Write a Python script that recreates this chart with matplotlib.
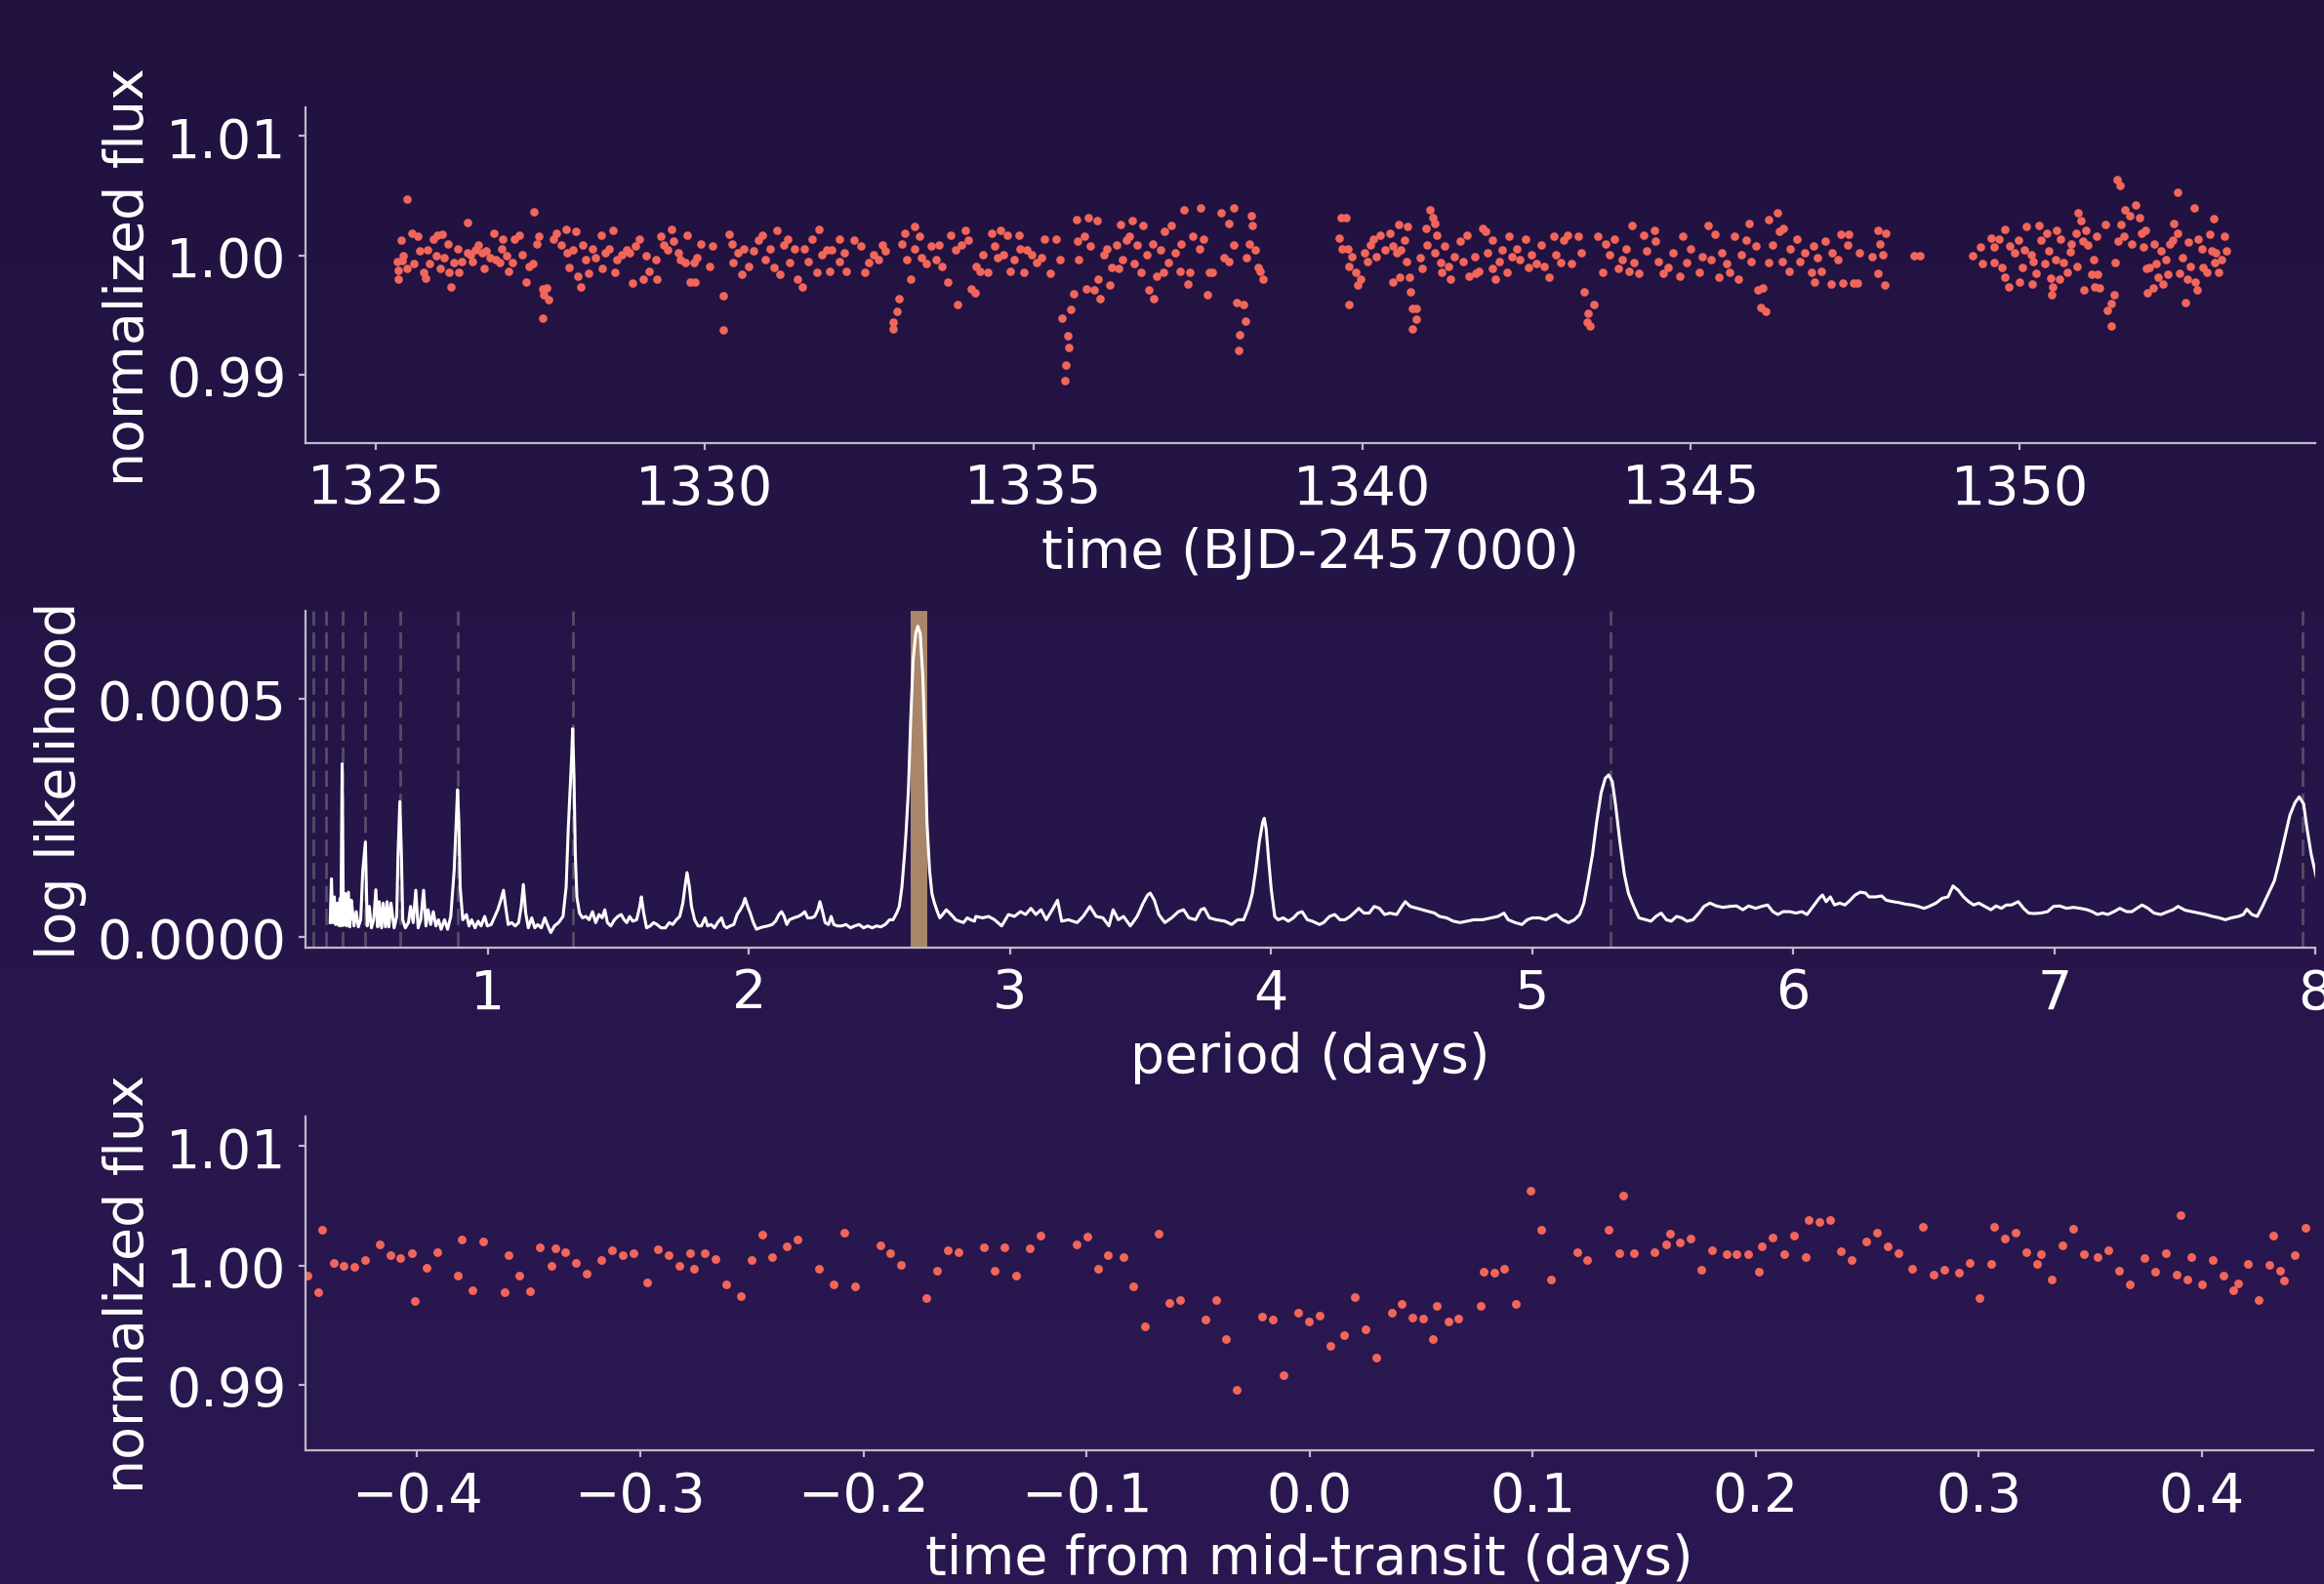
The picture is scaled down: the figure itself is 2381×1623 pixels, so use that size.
import numpy as np
import matplotlib
matplotlib.use('Agg')
import matplotlib.pyplot as plt
from matplotlib.ticker import FormatStrFormatter
from matplotlib.colors import LinearSegmentedColormap

# top panel: light curve, time (BJD-2457000) and normalized flux
lc_time = [
    1325.47, 1325.39, 1325.54, 1325.64, 1325.42, 1325.32, 1325.34, 1325.34, 1325.40, 1325.47,
    1325.57, 1325.67, 1325.72, 1325.76, 1325.82, 1325.87, 1325.94, 1326.01, 1325.79, 1325.92,
    1325.97, 1326.04, 1326.09, 1326.14, 1326.11, 1326.19, 1326.24, 1326.26, 1326.31, 1326.40,
    1326.39, 1326.44, 1326.46, 1326.51, 1326.56, 1326.61, 1326.64, 1326.68, 1326.73, 1326.80,
    1326.83, 1326.88, 1326.93, 1326.92, 1326.98, 1327.02, 1327.08, 1327.10, 1327.18, 1327.22,
    1327.28, 1327.33, 1327.39, 1327.40, 1327.44, 1327.48, 1327.53, 1327.55, 1327.62, 1327.60,
    1327.53, 1327.70, 1327.74, 1327.89, 1327.82, 1327.90, 1327.94, 1327.99, 1328.04, 1328.07,
    1328.12, 1328.14, 1328.19, 1328.24, 1328.29, 1328.34, 1328.42, 1328.44, 1328.49, 1328.54,
    1328.60, 1328.63, 1328.66, 1328.74, 1328.81, 1328.86, 1328.90, 1328.94, 1329.01, 1329.07,
    1329.11, 1329.16, 1329.26, 1329.28, 1329.33, 1329.38, 1329.43, 1329.50, 1329.53, 1329.60,
    1329.63, 1329.73, 1329.70, 1329.78, 1329.83, 1329.85, 1329.88, 1329.94, 1330.07, 1330.12,
    1330.29, 1330.28, 1330.37, 1330.42, 1330.43, 1330.50, 1330.57, 1330.59, 1330.67, 1330.74,
    1330.82, 1330.88, 1330.92, 1330.99, 1331.06, 1331.10, 1331.14, 1331.21, 1331.27, 1331.29,
    1331.36, 1331.41, 1331.49, 1331.51, 1331.58, 1331.63, 1331.71, 1331.74, 1331.78, 1331.86,
    1331.90, 1331.93, 1332.05, 1332.05, 1332.13, 1332.15, 1332.27, 1332.38, 1332.44, 1332.50, 1332.57,
    1332.70, 1332.75, 1332.65, 1332.95, 1332.92, 1332.87, 1332.87, 1333.00, 1333.05, 1333.07,
    1333.14, 1333.19, 1333.19, 1333.27, 1333.29, 1333.37, 1333.44, 1333.52, 1333.56, 1333.61,
    1333.69, 1333.74, 1333.81, 1333.85, 1333.91, 1333.96, 1334.01, 1334.06, 1334.11, 1334.13,
    1334.18, 1334.23, 1334.31, 1334.36, 1334.41, 1334.46, 1334.50, 1334.55, 1334.60, 1334.65,
    1334.70, 1334.78, 1334.80, 1334.85, 1334.90, 1334.98, 1335.05, 1335.12, 1335.17, 1335.25,
    1335.35, 1335.40, 1335.44, 1335.52, 1335.54, 1335.50, 1335.48, 1335.57, 1335.61, 1335.65,
    1335.67, 1335.69, 1335.77, 1335.81, 1335.84, 1335.87, 1335.92, 1335.97, 1335.99, 1336.02,
    1336.07, 1336.11, 1336.16, 1336.19, 1336.26, 1336.29, 1336.33, 1336.36, 1336.41, 1336.46,
    1336.51, 1336.53, 1336.58, 1336.63, 1336.66, 1336.73, 1336.76, 1336.83, 1336.81, 1336.88,
    1336.93, 1336.98, 1336.99, 1337.06, 1337.09, 1337.15, 1337.23, 1337.25, 1337.29, 1337.35,
    1337.38, 1337.42, 1337.53, 1337.55, 1337.59, 1337.65, 1337.67, 1337.72, 1337.85, 1337.90,
    1337.98, 1337.98, 1338.05, 1338.05, 1338.09, 1338.19, 1338.22, 1338.14, 1338.12, 1338.24,
    1338.29, 1338.32, 1338.33, 1338.37, 1338.42, 1338.45, 1338.50,
    1339.68, 1339.75, 1339.65, 1339.70, 1339.78, 1339.80, 1339.80, 1339.85, 1339.90, 1339.93,
    1339.98, 1340.03, 1340.08, 1340.13, 1340.17, 1340.22, 1340.27, 1340.35,
    1340.42, 1340.55, 1340.69, 1340.47, 1340.52, 1340.59, 1340.64, 1340.67, 1340.46, 1340.57,
    1340.72, 1340.74, 1340.77, 1340.82, 1340.83, 1340.77, 1340.89, 1340.91, 1340.97, 1340.99,
    1341.03, 1341.07, 1341.11, 1341.14, 1341.11, 1341.19, 1341.21, 1341.26, 1341.31, 1341.34,
    1341.41, 1341.49, 1341.54, 1341.60, 1341.62, 1341.73, 1341.78, 1341.71, 1341.83, 1341.88,
    1341.91, 1341.98, 1341.98, 1342.03, 1342.08, 1342.13, 1342.20, 1342.23, 1342.28, 1342.35,
    1342.40, 1342.48, 1342.53, 1342.57, 1342.65, 1342.72, 1342.77, 1342.85, 1342.92, 1342.95,
    1343.02, 1343.07, 1343.12, 1343.19, 1343.29, 1343.34, 1343.38, 1343.52, 1343.44, 1343.42,
    1343.47, 1343.59, 1343.66, 1343.71, 1343.76, 1343.84, 1343.89, 1343.96, 1344.01, 1344.06,
    1344.11, 1344.13, 1344.21, 1344.28, 1344.33, 1344.45, 1344.46, 1344.51, 1344.58, 1344.65,
    1344.73, 1344.83, 1344.88, 1344.93, 1345.00, 1345.13, 1345.17, 1345.27, 1345.30, 1345.37,
    1345.42, 1345.47, 1345.55, 1345.59, 1345.67, 1345.72, 1345.77, 1345.84, 1345.88, 1345.92,
    1345.99, 1346.02, 1346.09, 1346.07, 1346.14, 1346.19, 1346.19, 1346.24, 1346.31, 1346.34,
    1346.41, 1346.39, 1346.49, 1346.51, 1346.61, 1346.66, 1346.73, 1346.83, 1346.86, 1346.88,
    1346.93, 1346.98, 1347.05, 1347.13, 1347.15, 1347.23, 1347.28, 1347.31, 1347.38, 1347.40, 1347.48,
    1347.53, 1347.57, 1347.76, 1347.84, 1347.96, 1347.88, 1347.92, 1347.85, 1347.95, 1348.39, 1348.49,
    1349.29, 1349.41, 1349.43, 1349.57, 1349.61, 1349.61, 1349.68, 1349.73, 1349.78, 1349.78,
    1349.83, 1349.85, 1349.93, 1349.98, 1350.00, 1350.05, 1350.08, 1350.11, 1350.17, 1350.19,
    1350.21, 1350.25, 1350.30, 1350.32, 1350.38, 1350.42, 1350.45, 1350.47, 1350.50, 1350.49,
    1350.55, 1350.57, 1350.61, 1350.62, 1350.67, 1350.72, 1350.77, 1350.79, 1350.86, 1350.89,
    1350.87, 1350.94, 1350.97, 1350.98, 1351.01, 1351.04, 1351.09, 1351.12, 1351.14, 1351.17,
    1351.19, 1351.21, 1351.31, 1351.34, 1351.39, 1351.44, 1351.40, 1351.46, 1351.48, 1351.53,
    1351.50, 1351.55, 1351.58, 1351.60, 1351.68, 1351.71, 1351.77, 1351.83, 1351.85, 1351.88,
    1351.91, 1351.93, 1351.95, 1351.98, 1352.03, 1352.05, 1352.08, 1352.11, 1352.15, 1352.18,
    1352.23, 1352.25, 1352.28, 1352.33, 1352.35, 1352.40, 1352.40, 1352.44, 1352.48, 1352.53,
    1352.55, 1352.57, 1352.60, 1352.65, 1352.67, 1352.70, 1352.72, 1352.77, 1352.79, 1352.85,
    1352.90, 1352.92, 1352.96, 1352.97, 1352.99, 1353.03, 1353.07, 1353.11, 1353.14,
]
lc_flux = [
    1.0047, 1.0013, 1.0019, 1.0016, 1.0000, 0.9995, 0.9988, 0.9980, 0.9996, 0.9989,
    0.9993, 1.0004, 0.9986, 0.9981, 0.9993, 1.0014, 1.0017, 1.0018, 1.0005, 1.0000,
    0.9989, 0.9998, 1.0010, 0.9974, 0.9986, 0.9994, 1.0006, 0.9986, 0.9995, 1.0028,
    1.0002, 1.0001, 0.9995, 1.0005, 1.0009, 1.0002, 0.9989, 1.0004, 0.9998, 1.0019,
    0.9997, 0.9994, 1.0014, 1.0006, 1.0000, 0.9987, 0.9994, 1.0014, 1.0017, 1.0001,
    0.9978, 0.9991, 0.9993, 1.0037, 1.0010, 1.0016, 0.9972, 0.9967, 0.9963, 0.9973,
    0.9948, 1.0014, 1.0019, 1.0022, 1.0009, 1.0002, 0.9990, 1.0005, 1.0020, 0.9983,
    0.9974, 1.0009, 0.9997, 0.9985, 1.0006, 0.9998, 1.0017, 0.9989, 1.0002, 1.0006,
    1.0021, 0.9986, 0.9997, 1.0001, 1.0005, 1.0002, 0.9977, 1.0008, 1.0014, 0.9980,
    1.0000, 0.9987, 0.9997, 0.9980, 1.0016, 1.0009, 1.0005, 1.0022, 1.0012, 1.0002,
    0.9997, 1.0017, 0.9994, 0.9978, 0.9994, 0.9978, 0.9998, 1.0010, 0.9991, 1.0008,
    0.9966, 0.9938, 1.0018, 1.0010, 0.9994, 1.0002, 0.9984, 1.0006, 0.9991, 1.0004,
    1.0013, 1.0017, 0.9997, 1.0006, 0.9990, 1.0021, 0.9984, 1.0009, 1.0014, 0.9994,
    1.0006, 0.9980, 0.9974, 1.0006, 0.9995, 1.0014, 0.9986, 1.0022, 1.0001, 1.0005,
    0.9987, 1.0005, 1.0014, 0.9995, 1.0002, 0.9987, 1.0013, 1.0008, 0.9986, 0.9994, 1.0001,
    1.0009, 1.0004, 0.9997, 0.9964, 0.9953, 0.9944, 0.9939, 1.0010, 1.0019, 0.9997,
    0.9980, 1.0024, 1.0006, 1.0016, 0.9998, 0.9993, 1.0008, 0.9997, 1.0009, 0.9991,
    0.9978, 1.0017, 1.0005, 0.9959, 1.0009, 1.0021, 1.0013, 0.9972, 0.9969, 0.9991,
    0.9987, 1.0001, 0.9986, 1.0019, 1.0008, 0.9998, 1.0021, 1.0001, 1.0017, 0.9987,
    0.9997, 1.0017, 1.0006, 0.9986, 1.0005, 1.0001, 0.9994, 0.9998, 1.0014, 0.9985,
    1.0014, 0.9997, 0.9948, 0.9933, 0.9923, 0.9908, 0.9895, 0.9955, 0.9968, 1.0030,
    1.0012, 0.9997, 1.0016, 0.9972, 1.0032, 1.0008, 0.9971, 1.0029, 0.9980, 0.9964,
    1.0001, 1.0006, 0.9975, 0.9990, 1.0009, 0.9989, 1.0026, 0.9997, 1.0013, 1.0016,
    1.0029, 0.9993, 1.0009, 0.9986, 1.0025, 1.0001, 0.9971, 0.9964, 1.0010, 0.9983,
    1.0005, 0.9986, 1.0020, 0.9994, 1.0025, 1.0002, 0.9987, 1.0010, 1.0038, 0.9976,
    0.9986, 1.0016, 1.0006, 1.0040, 1.0014, 0.9967, 0.9986, 0.9986, 1.0036, 0.9998,
    1.0027, 0.9995, 1.0040, 1.0009, 0.9961, 0.9959, 0.9945, 0.9934, 0.9921, 0.9998,
    1.0010, 1.0033, 1.0025, 1.0005, 0.9990, 0.9987, 0.9980,
    1.0032, 1.0032, 1.0015, 1.0006, 1.0006, 0.9991, 0.9959, 0.9999, 0.9986, 0.9975,
    0.9980, 1.0002, 0.9995, 1.0009, 1.0014, 0.9999, 1.0017, 1.0005,
    1.0019, 1.0026, 1.0024, 1.0008, 1.0002, 1.0005, 1.0013, 0.9995, 0.9978, 0.9982,
    0.9982, 0.9970, 0.9956, 0.9956, 0.9947, 0.9939, 0.9998, 0.9989, 1.0023, 1.0009,
    1.0038, 1.0032, 1.0027, 1.0017, 1.0002, 0.9994, 0.9986, 1.0008, 0.9991, 0.9980,
    0.9999, 1.0012, 0.9995, 1.0017, 0.9983, 0.9985, 0.9987, 0.9999, 1.0023, 1.0020,
    1.0002, 0.9989, 1.0013, 0.9980, 0.9995, 1.0005, 0.9986, 1.0016, 0.9999, 1.0006,
    0.9997, 1.0014, 0.9990, 1.0001, 0.9993, 1.0009, 0.9991, 0.9982, 1.0016, 1.0001,
    0.9994, 1.0013, 1.0017, 0.9993, 1.0016, 1.0002, 0.9970, 0.9959, 0.9952, 0.9944,
    0.9941, 1.0016, 0.9986, 1.0010, 1.0001, 1.0014, 0.9989, 0.9997, 1.0006, 0.9987,
    1.0025, 0.9994, 0.9985, 1.0017, 1.0004, 1.0021, 1.0012, 0.9995, 0.9985, 0.9990,
    1.0002, 0.9983, 1.0016, 0.9994, 1.0006, 0.9986, 0.9999, 1.0025, 0.9997, 1.0018,
    0.9982, 1.0002, 0.9993, 0.9986, 1.0016, 0.9980, 1.0001, 1.0013, 1.0027, 0.9995,
    1.0008, 0.9971, 0.9973, 0.9957, 0.9953, 1.0030, 0.9994, 1.0009, 1.0036, 1.0020,
    1.0023, 0.9995, 0.9987, 1.0006, 1.0014, 0.9995, 1.0002, 0.9986, 1.0008, 0.9978,
    0.9998, 0.9987, 1.0012, 0.9976, 1.0002, 0.9997, 1.0018, 0.9977, 1.0009, 1.0018, 0.9977,
    0.9977, 1.0002, 0.9999, 1.0021, 1.0019, 1.0010, 1.0001, 0.9985, 0.9975, 1.0000, 1.0000,
    1.0000, 1.0007, 0.9993, 1.0015, 1.0007, 0.9994, 1.0014, 0.9990, 1.0022, 0.9982,
    0.9974, 1.0008, 1.0002, 1.0013, 0.9978, 0.9990, 1.0005, 1.0024, 1.0001, 0.9976,
    0.9995, 0.9985, 1.0025, 1.0013, 0.9993, 1.0019, 1.0004, 0.9981, 0.9974, 0.9967,
    0.9997, 1.0021, 0.9980, 1.0014, 0.9994, 0.9986, 1.0003, 1.0010, 1.0019, 1.0036,
    0.9991, 1.0029, 1.0012, 0.9971, 1.0021, 1.0009, 0.9984, 0.9997, 0.9974, 1.0016,
    0.9984, 0.9973, 1.0026, 0.9954, 0.9960, 0.9967, 0.9941, 0.9994, 1.0064, 1.0059,
    1.0012, 1.0026, 1.0016, 1.0038, 1.0033, 1.0010, 1.0042, 1.0032, 1.0019, 1.0007,
    1.0021, 0.9989, 0.9969, 0.9990, 0.9973, 1.0010, 0.9993, 0.9982, 1.0004, 0.9976,
    0.9997, 0.9984, 1.0010, 1.0013, 1.0027, 1.0053, 1.0019, 0.9985, 0.9998, 0.9961,
    0.9980, 1.0011, 0.9991, 1.0040, 0.9978, 0.9971, 1.0014, 1.0006, 0.9990, 0.9986,
    1.0018, 1.0004, 1.0031, 0.9994, 1.0002, 0.9986, 0.9997, 1.0016, 1.0004,
]

# middle panel: periodogram, log likelihood given in units of 1e-4
period = [
    0.396, 0.401, 0.406, 0.412, 0.417, 0.424, 0.429, 0.434, 0.437, 0.442,
    0.447, 0.454, 0.459, 0.466, 0.471, 0.477, 0.482, 0.487, 0.496, 0.504,
    0.513, 0.521, 0.531, 0.538, 0.546, 0.554, 0.563, 0.571, 0.578, 0.584,
    0.593, 0.599, 0.608, 0.614, 0.621, 0.629, 0.641, 0.651, 0.656, 0.663,
    0.669, 0.674, 0.684, 0.696, 0.704, 0.714, 0.724, 0.733, 0.743, 0.754,
    0.763, 0.771, 0.781, 0.791, 0.801, 0.811, 0.821, 0.834, 0.846, 0.858,
    0.871, 0.879, 0.884, 0.889, 0.894, 0.904, 0.918, 0.928, 0.938, 0.951,
    0.963, 0.974, 0.988, 0.998, 1.013, 1.038, 1.048, 1.060, 1.068, 1.078,
    1.091, 1.105, 1.118, 1.128, 1.136, 1.145, 1.155, 1.168, 1.180, 1.191,
    1.205, 1.218, 1.230, 1.241, 1.255, 1.271, 1.288, 1.300, 1.308, 1.315,
    1.321, 1.325, 1.330, 1.335, 1.341, 1.351, 1.363, 1.375, 1.388, 1.401,
    1.413, 1.426, 1.438, 1.448, 1.458, 1.471, 1.485, 1.498, 1.511, 1.522,
    1.532, 1.543, 1.555, 1.570, 1.582, 1.588, 1.597, 1.608, 1.622, 1.635,
    1.648, 1.663, 1.680, 1.695, 1.708, 1.722, 1.735, 1.747, 1.755, 1.763,
    1.772, 1.780, 1.792, 1.805, 1.818, 1.832, 1.842, 1.855, 1.868, 1.880,
    1.895, 1.905, 1.915, 1.928, 1.942, 1.955, 1.967, 1.977, 1.985, 1.995,
    2.005, 2.017, 2.029, 2.042, 2.055, 2.072, 2.089, 2.102, 2.115, 2.125,
    2.135, 2.145, 2.155, 2.172, 2.189, 2.202, 2.214, 2.225, 2.239, 2.252,
    2.264, 2.272, 2.282, 2.292, 2.305, 2.315, 2.325, 2.339, 2.355, 2.372,
    2.389, 2.405, 2.422, 2.439, 2.455, 2.472, 2.489, 2.505, 2.522, 2.539,
    2.552, 2.566, 2.576, 2.586, 2.596, 2.602, 2.611, 2.619, 2.629, 2.639,
    2.647, 2.656, 2.666, 2.676, 2.682, 2.692, 2.701, 2.709, 2.719, 2.731,
    2.742, 2.756, 2.769, 2.781, 2.792, 2.806, 2.822, 2.836, 2.849, 2.864,
    2.869, 2.895, 2.918, 2.941, 2.968, 2.994, 3.017, 3.040, 3.060, 3.080,
    3.099, 3.119, 3.139, 3.165, 3.182, 3.198, 3.224, 3.257, 3.280, 3.306,
    3.330, 3.356, 3.379, 3.395, 3.415, 3.435, 3.461, 3.487, 3.510, 3.527,
    3.537, 3.553, 3.570, 3.593, 3.619, 3.645, 3.665, 3.685, 3.711, 3.731,
    3.744, 3.764, 3.790, 3.823, 3.849, 3.872, 3.895, 3.915, 3.928, 3.941,
    3.955, 3.968, 3.974, 3.981, 3.991, 4.001, 4.014, 4.027, 4.047, 4.066,
    4.086, 4.103, 4.119, 4.139, 4.158, 4.185, 4.201, 4.224, 4.244, 4.264,
    4.283, 4.303, 4.323, 4.336, 4.356, 4.376, 4.395, 4.415, 4.435, 4.455,
    4.481, 4.501, 4.514, 4.533, 4.560, 4.580, 4.606, 4.626, 4.645, 4.672,
    4.698, 4.724, 4.751, 4.777, 4.810, 4.843, 4.869, 4.892, 4.908, 4.935,
    4.961, 4.981, 5.001, 5.027, 5.053, 5.073, 5.093, 5.116, 5.139, 5.162,
    5.182, 5.198, 5.214, 5.231, 5.247, 5.264, 5.280, 5.293, 5.307, 5.320,
    5.336, 5.353, 5.369, 5.389, 5.409, 5.435, 5.455, 5.474, 5.494, 5.514,
    5.533, 5.553, 5.573, 5.593, 5.616, 5.639, 5.658, 5.681, 5.705, 5.731,
    5.757, 5.783, 5.807, 5.829, 5.856, 5.879, 5.902, 5.922, 5.941, 5.961,
    5.987, 6.010, 6.033, 6.053, 6.076, 6.099, 6.112, 6.126, 6.142, 6.158,
    6.178, 6.198, 6.218, 6.237, 6.257, 6.277, 6.290, 6.316, 6.339, 6.356,
    6.382, 6.405, 6.428, 6.455, 6.478, 6.501, 6.520, 6.547, 6.570, 6.593,
    6.612, 6.632, 6.652, 6.672, 6.691, 6.711, 6.734, 6.757, 6.777, 6.797,
    6.816, 6.836, 6.862, 6.882, 6.902, 6.922, 6.948, 6.974, 6.997, 7.020,
    7.047, 7.073, 7.099, 7.126, 7.145, 7.165, 7.185, 7.205, 7.228, 7.251,
    7.277, 7.297, 7.316, 7.336, 7.359, 7.382, 7.408, 7.435, 7.455, 7.474,
    7.501, 7.527, 7.553, 7.580, 7.606, 7.632, 7.655, 7.678, 7.705, 7.724,
    7.737, 7.757, 7.777, 7.797, 7.820, 7.843, 7.862, 7.882, 7.902, 7.922,
    7.938, 7.955, 7.968, 7.984, 8.001, 8.027,
]
loglike_1e4 = [
    0.30, 1.22, 0.30, 0.84, 0.26, 0.71, 0.24, 0.81, 0.23, 3.63,
    0.24, 0.91, 0.23, 0.94, 0.21, 0.77, 0.53, 0.23, 0.53, 0.21,
    0.36, 1.39, 1.99, 0.23, 0.64, 0.19, 0.36, 0.99, 0.21, 0.74,
    0.19, 0.71, 0.21, 0.74, 0.21, 0.71, 0.19, 0.43, 1.73, 2.84,
    1.73, 0.36, 0.19, 0.30, 0.64, 0.30, 0.98, 0.19, 0.36, 0.98,
    0.23, 0.57, 0.26, 0.53, 0.23, 0.36, 0.16, 0.36, 0.16, 0.43,
    1.39, 2.41, 3.09, 2.41, 1.05, 0.36, 0.47, 0.23, 0.36, 0.19,
    0.33, 0.23, 0.43, 0.23, 0.26, 0.57, 0.74, 0.98, 0.64, 0.26,
    0.30, 0.23, 0.30, 0.64, 1.10, 0.50, 0.19, 0.40, 0.19, 0.26,
    0.19, 0.40, 0.23, 0.09, 0.23, 0.30, 0.43, 1.05, 2.27, 3.09,
    3.78, 4.37, 3.37, 1.73, 0.84, 0.50, 0.40, 0.43, 0.36, 0.53,
    0.30, 0.47, 0.40, 0.57, 0.30, 0.23, 0.36, 0.43, 0.47, 0.36,
    0.30, 0.43, 0.33, 0.36, 0.64, 0.84, 0.50, 0.19, 0.23, 0.30,
    0.26, 0.19, 0.19, 0.30, 0.26, 0.36, 0.43, 0.71, 1.05, 1.35,
    1.05, 0.64, 0.36, 0.23, 0.23, 0.40, 0.23, 0.26, 0.19, 0.30,
    0.40, 0.23, 0.19, 0.23, 0.26, 0.47, 0.57, 0.67, 0.81, 0.64,
    0.50, 0.30, 0.16, 0.19, 0.21, 0.23, 0.26, 0.33, 0.47, 0.53,
    0.43, 0.26, 0.36, 0.40, 0.43, 0.47, 0.53, 0.40, 0.40, 0.43,
    0.57, 0.74, 0.53, 0.30, 0.26, 0.43, 0.26, 0.23, 0.23, 0.26,
    0.19, 0.23, 0.26, 0.19, 0.23, 0.19, 0.23, 0.21, 0.26, 0.36,
    0.36, 0.50, 0.64, 1.05, 1.73, 2.21, 3.09, 4.46, 5.82, 6.37,
    6.52, 6.37, 5.48, 3.78, 2.41, 1.39, 0.91, 0.74, 0.57, 0.40,
    0.47, 0.57, 0.50, 0.43, 0.36, 0.33, 0.30, 0.40, 0.36, 0.33,
    0.43, 0.40, 0.43, 0.36, 0.23, 0.47, 0.43, 0.53, 0.47, 0.60,
    0.47, 0.57, 0.36, 0.60, 0.77, 0.33, 0.36, 0.30, 0.43, 0.64,
    0.43, 0.40, 0.23, 0.57, 0.36, 0.43, 0.23, 0.43, 0.71, 0.88,
    0.92, 0.77, 0.47, 0.30, 0.40, 0.53, 0.57, 0.40, 0.36, 0.57,
    0.60, 0.40, 0.36, 0.33, 0.26, 0.36, 0.36, 0.64, 0.91, 1.39,
    2.00, 2.41, 2.49, 2.27, 1.59, 0.98, 0.43, 0.36, 0.40, 0.33,
    0.40, 0.50, 0.53, 0.36, 0.33, 0.26, 0.30, 0.43, 0.47, 0.36,
    0.36, 0.43, 0.53, 0.60, 0.50, 0.50, 0.64, 0.60, 0.47, 0.50,
    0.47, 0.64, 0.74, 0.64, 0.60, 0.57, 0.53, 0.50, 0.43, 0.40,
    0.33, 0.30, 0.33, 0.36, 0.36, 0.40, 0.43, 0.50, 0.36, 0.30,
    0.26, 0.36, 0.40, 0.40, 0.36, 0.43, 0.47, 0.36, 0.30, 0.36,
    0.47, 0.71, 1.18, 1.73, 2.41, 3.02, 3.33, 3.40, 3.26, 2.75,
    2.00, 1.32, 0.91, 0.64, 0.40, 0.36, 0.33, 0.43, 0.50, 0.36,
    0.33, 0.43, 0.40, 0.33, 0.36, 0.50, 0.64, 0.71, 0.65, 0.62,
    0.64, 0.65, 0.57, 0.65, 0.60, 0.64, 0.67, 0.53, 0.47, 0.53,
    0.53, 0.50, 0.53, 0.47, 0.64, 0.81, 0.88, 0.74, 0.84, 0.67,
    0.71, 0.67, 0.77, 0.88, 0.94, 0.92, 0.84, 0.84, 0.86, 0.77,
    0.74, 0.72, 0.69, 0.67, 0.64, 0.60, 0.64, 0.71, 0.81, 0.84,
    1.07, 0.98, 0.84, 0.74, 0.67, 0.71, 0.64, 0.57, 0.65, 0.60,
    0.67, 0.67, 0.74, 0.60, 0.50, 0.49, 0.50, 0.53, 0.64, 0.65,
    0.60, 0.62, 0.60, 0.57, 0.53, 0.47, 0.50, 0.47, 0.53, 0.60,
    0.53, 0.53, 0.60, 0.67, 0.60, 0.50, 0.47, 0.53, 0.57, 0.64,
    0.56, 0.53, 0.50, 0.47, 0.43, 0.40, 0.36, 0.40, 0.43, 0.47,
    0.58, 0.47, 0.43, 0.64, 0.91, 1.18, 1.59, 2.07, 2.55, 2.82,
    2.94, 2.79, 2.27, 1.73, 1.32, 0.71,
]
band = (2.619, 2.682)  # highlighted best period
harmonics = [0.331, 0.379, 0.442, 0.530, 0.663, 0.883, 1.325, 5.30, 7.95]

# bottom panel: folded light curve
fold_time = [
    -0.4491, -0.4442, -0.4425, -0.4375, -0.4329, -0.4280, -0.4233, -0.4167, -0.4120, -0.4074,
    -0.4025, -0.4010, -0.3958, -0.3912, -0.3816, -0.3802, -0.3753, -0.3703, -0.3608, -0.3590,
    -0.3544, -0.3495, -0.3449, -0.3399, -0.3382, -0.3336, -0.3289, -0.3240, -0.3173, -0.3127,
    -0.3078, -0.3032, -0.2968, -0.2919, -0.2872, -0.2823, -0.2777, -0.2759, -0.2710, -0.2664,
    -0.2617, -0.2551, -0.2501, -0.2455, -0.2409, -0.2342, -0.2296, -0.2200, -0.2134, -0.2087,
    -0.2038, -0.1925, -0.1879, -0.1832, -0.1717, -0.1670, -0.1621, -0.1575, -0.1462, -0.1412,
    -0.1366, -0.1317, -0.1253, -0.1207, -0.1045, -0.0998, -0.0949, -0.0903, -0.0836, -0.0790,
    -0.0740, -0.0677, -0.0628, -0.0581, -0.0468, -0.0419, -0.0373, -0.0326, -0.0213, -0.0164,
    -0.0118, -0.0049, -0.0005, 0.0045, 0.0092, 0.0156, 0.0203, 0.0252, 0.0299, 0.0367,
    0.0413, 0.0460, 0.0507, 0.0554, 0.0571, 0.0621, 0.0668, 0.0765, 0.0779, 0.0829,
    0.0873, 0.0923, 0.0990, 0.1037, 0.1084, 0.1198, 0.1245, 0.1339, 0.1388, 0.1406,
    0.1453, 0.1546, 0.1596, 0.1614, 0.1660, 0.1707, 0.1757, 0.1804, 0.1868, 0.1915,
    0.1965, 0.2012, 0.2029, 0.2076, 0.2126, 0.2173, 0.2222, 0.2237, 0.2284, 0.2334,
    0.2381, 0.2430, 0.2495, 0.2541, 0.2591, 0.2638, 0.2702, 0.2749, 0.2799, 0.2846,
    0.2910, 0.2957, 0.3004, 0.3054, 0.3068, 0.3118, 0.3165, 0.3212, 0.3261, 0.3279,
    0.3326, 0.3376, 0.3422, 0.3469, 0.3534, 0.3580, 0.3630, 0.3677, 0.3741, 0.3788,
    0.3838, 0.3885, 0.3905, 0.3935, 0.3952, 0.3999, 0.4046, 0.4096, 0.4142, 0.4160,
    0.4207, 0.4254, 0.4303, 0.4318, 0.4350, 0.4368, 0.4415, 0.4462,
]
fold_flux = [
    0.99915, 0.99779, 1.00297, 1.00022, 0.99997, 0.99992, 1.00044, 1.00175, 1.00090, 1.00063,
    1.00101, 0.99703, 0.99981, 1.00109, 0.99918, 1.00215, 0.99793, 1.00205, 0.99779, 1.00085,
    0.99918, 0.99787, 1.00153, 0.99995, 1.00142, 1.00112, 1.00022, 0.99929, 1.00049, 1.00131,
    1.00090, 1.00101, 0.99861, 1.00136, 1.00090, 1.00000, 1.00106, 0.99970, 1.00106, 1.00057,
    0.99845, 0.99741, 1.00044, 1.00259, 1.00074, 1.00164, 1.00215, 0.99973, 0.99839, 1.00273,
    0.99823, 1.00166, 1.00101, 1.00005, 0.99725, 0.99954, 1.00131, 1.00112, 1.00155, 0.99954,
    1.00155, 0.99918, 1.00145, 1.00254, 1.00175, 1.00243, 0.99973, 1.00087, 1.00071, 0.99825,
    0.99490, 1.00265, 0.99684, 0.99708, 0.99545, 0.99708, 0.99384, 0.98958, 0.99572, 0.99547,
    0.99078, 0.99607, 0.99534, 0.99583, 0.99329, 0.99416, 0.99738, 0.99466, 0.99228, 0.99602,
    0.99675, 0.99564, 0.99555, 0.99384, 0.99665, 0.99534, 0.99555, 0.99659, 0.99948, 0.99937,
    0.99975, 0.99678, 1.00630, 1.00303, 0.99883, 1.00112, 1.00049, 1.00303, 1.00104, 1.00586,
    1.00104, 1.00115, 1.00177, 1.00265, 1.00191, 1.00226, 0.99965, 1.00125, 1.00093, 1.00093,
    1.00093, 0.99948, 1.00164, 1.00235, 1.00093, 1.00251, 1.00074, 1.00382, 1.00368, 1.00382,
    1.00123, 1.00046, 1.00205, 1.00273, 1.00164, 1.00106, 0.99970, 1.00322, 0.99926, 0.99967,
    0.99943, 1.00025, 0.99725, 1.00016, 1.00322, 1.00224, 1.00273, 1.00109, 1.00016, 1.00095,
    0.99883, 1.00169, 1.00308, 1.00095, 1.00071, 1.00131, 0.99956, 0.99842, 1.00063, 0.99951,
    1.00106, 0.99924, 1.00425, 0.99880, 1.00074, 0.99845, 1.00049, 0.99918, 0.99793, 0.99853,
    1.00011, 0.99708, 1.00003, 1.00254, 0.99954, 0.99875, 1.00090, 1.00319,
]

dot_color = '#f2665a'
axis_color = '#bdbac5'

plt.rcParams.update({
    'font.family': 'DejaVu Sans',
    'font.size': 20,
    'text.color': 'white',
    'axes.labelcolor': 'white',
})

fig = plt.figure(figsize=(2381 / 200, 1624 / 200), dpi=200)

# background gradient
bg = fig.add_axes([0, 0, 1, 1], zorder=-10)
grad = np.linspace(0, 1, 256).reshape(-1, 1)
cmap = LinearSegmentedColormap.from_list('bg', ['#211240', '#2b1852'])
bg.imshow(grad, aspect='auto', cmap=cmap, extent=[0, 1, 0, 1], origin='upper')
bg.axis('off')


def style(ax):
    ax.set_facecolor('none')
    ax.spines['top'].set_visible(False)
    ax.spines['right'].set_visible(False)
    for s in ['left', 'bottom']:
        ax.spines[s].set_color(axis_color)
        ax.spines[s].set_linewidth(0.8)
    ax.tick_params(length=2.5, width=0.8, pad=4.5, colors=axis_color,
                   labelcolor='white', labelsize=20)


ax1 = fig.add_axes([0.1315, 0.7198, 0.8648, 0.2118])
ax2 = fig.add_axes([0.1315, 0.4015, 0.8648, 0.2124])
ax3 = fig.add_axes([0.1315, 0.0844, 0.8640, 0.2106])

# top: raw light curve
ax1.plot(lc_time, lc_flux, 'o', color=dot_color, ms=3.1, mew=0)
ax1.set_xlim(1323.93, 1354.5)
ax1.set_ylim(0.9843, 1.0124)
ax1.set_xticks([1325, 1330, 1335, 1340, 1345, 1350])
ax1.set_yticks([0.99, 1.00, 1.01])
ax1.yaxis.set_major_formatter(FormatStrFormatter('%.2f'))
ax1.set_xlabel('time (BJD-2457000)')
ax1.set_ylabel('normalized flux')
style(ax1)

# middle: periodogram
ax2.axvspan(band[0], band[1], color='#a98569', lw=0, zorder=1)
for h in harmonics:
    ax2.axvline(h, color='#564d66', lw=1.0, ls=(0, (6, 2.5)), zorder=1.5)
ax2.plot(period, np.array(loglike_1e4) * 1e-4, color='white', lw=1.1, zorder=3)
ax2.set_xlim(0.302, 8.0)
ax2.set_ylim(-0.0000225, 0.000684)
ax2.set_xticks([1, 2, 3, 4, 5, 6, 7, 8])
ax2.set_yticks([0.0, 0.0005])
ax2.yaxis.set_major_formatter(FormatStrFormatter('%.4f'))
ax2.xaxis.set_major_formatter(FormatStrFormatter('%d'))
ax2.set_xlabel('period (days)')
ax2.set_ylabel('log likelihood')
style(ax2)

# bottom: folded light curve
ax3.plot(fold_time, fold_flux, 'o', color=dot_color, ms=3.2, mew=0)
ax3.set_xlim(-0.45, 0.45)
ax3.set_ylim(0.9845, 1.0125)
ax3.set_xticks([-0.4, -0.3, -0.2, -0.1, 0.0, 0.1, 0.2, 0.3, 0.4])
ax3.set_yticks([0.99, 1.00, 1.01])
ax3.yaxis.set_major_formatter(FormatStrFormatter('%.2f'))
ax3.set_xlabel('time from mid-transit (days)')
ax3.set_ylabel('normalized flux')
style(ax3)

fig.savefig('out.png', dpi=200)
